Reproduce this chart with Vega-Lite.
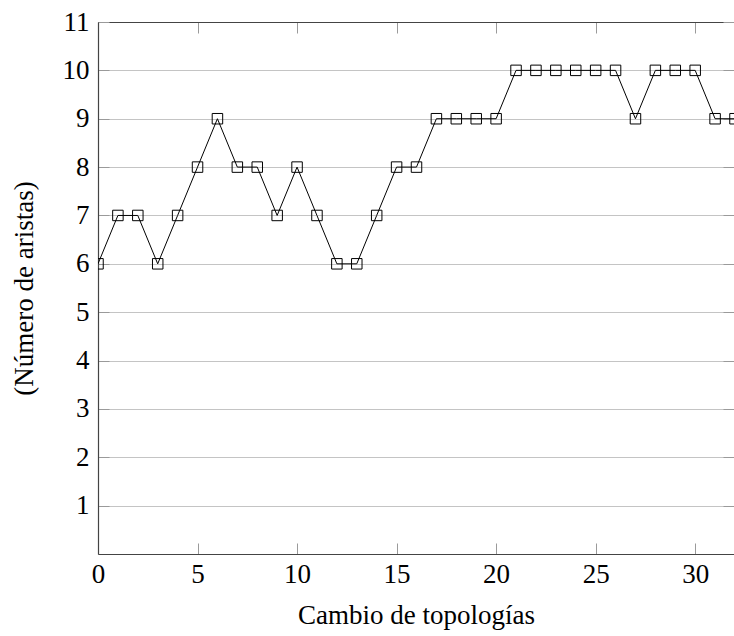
{
  "$schema": "https://vega.github.io/schema/vega-lite/v6.json",
  "autosize": {"type": "none"},
  "padding": {"left": 98, "top": 22, "right": 0, "bottom": 82},
  "width": 636,
  "height": 532,
  "background": "white",
  "config": {
    "view": {"stroke": null},
    "font": "'Liberation Serif', 'Times New Roman', Times, serif",
    "axis": {
      "labelFont": "'Liberation Serif', 'Times New Roman', Times, serif",
      "titleFont": "'Liberation Serif', 'Times New Roman', Times, serif",
      "labelFontSize": 27,
      "titleFontSize": 27,
      "labelColor": "black",
      "titleColor": "black",
      "titleFontWeight": "normal",
      "labelFlush": false,
      "domainColor": "#444444",
      "domainWidth": 1.2,
      "tickColor": "#9a9a9a",
      "tickWidth": 1,
      "gridColor": "#c4c4c4",
      "gridWidth": 1
    }
  },
  "data": {
    "values": [
      {"cambio": 0, "aristas": 6},
      {"cambio": 1, "aristas": 7},
      {"cambio": 2, "aristas": 7},
      {"cambio": 3, "aristas": 6},
      {"cambio": 4, "aristas": 7},
      {"cambio": 5, "aristas": 8},
      {"cambio": 6, "aristas": 9},
      {"cambio": 7, "aristas": 8},
      {"cambio": 8, "aristas": 8},
      {"cambio": 9, "aristas": 7},
      {"cambio": 10, "aristas": 8},
      {"cambio": 11, "aristas": 7},
      {"cambio": 12, "aristas": 6},
      {"cambio": 13, "aristas": 6},
      {"cambio": 14, "aristas": 7},
      {"cambio": 15, "aristas": 8},
      {"cambio": 16, "aristas": 8},
      {"cambio": 17, "aristas": 9},
      {"cambio": 18, "aristas": 9},
      {"cambio": 19, "aristas": 9},
      {"cambio": 20, "aristas": 9},
      {"cambio": 21, "aristas": 10},
      {"cambio": 22, "aristas": 10},
      {"cambio": 23, "aristas": 10},
      {"cambio": 24, "aristas": 10},
      {"cambio": 25, "aristas": 10},
      {"cambio": 26, "aristas": 10},
      {"cambio": 27, "aristas": 9},
      {"cambio": 28, "aristas": 10},
      {"cambio": 29, "aristas": 10},
      {"cambio": 30, "aristas": 10},
      {"cambio": 31, "aristas": 9},
      {"cambio": 32, "aristas": 9}
    ]
  },
  "layer": [
    {
      "mark": {"type": "line", "color": "black", "strokeWidth": 1, "clip": true},
      "encoding": {
        "x": {
          "field": "cambio", "type": "quantitative",
          "scale": {"domain": [0, 31.95], "nice": false, "zero": false},
          "axis": {
            "title": "Cambio de topologías",
            "values": [0, 5, 10, 15, 20, 25, 30],
            "grid": false,
            "labelFlush": false,
            "tickSize": -11,
            "labelPadding": 18,
            "titlePadding": 15
          }
        },
        "y": {
          "field": "aristas", "type": "quantitative",
          "scale": {"domain": [0, 11], "nice": false},
          "axis": {
            "title": "(Número de aristas)",
            "values": [1, 2, 3, 4, 5, 6, 7, 8, 9, 10, 11],
            "grid": true,
            "tickSize": -11,
            "labelPadding": 20,
            "titlePadding": 24
          }
        }
      }
    },
    {
      "mark": {"type": "point", "shape": "square", "size": 110, "filled": false, "stroke": "black", "strokeWidth": 1, "opacity": 1, "clip": true},
      "encoding": {
        "x": {
          "field": "cambio", "type": "quantitative",
          "axis": {
            "orient": "top", "title": null, "labels": false,
            "values": [0, 5, 10, 15, 20, 25, 30],
            "grid": false, "tickSize": -11
          }
        },
        "y": {
          "field": "aristas", "type": "quantitative",
          "axis": {
            "orient": "right", "title": null, "labels": false, "domain": false,
            "values": [1, 2, 3, 4, 5, 6, 7, 8, 9, 10, 11],
            "grid": false, "tickSize": -11
          }
        }
      }
    }
  ],
  "resolve": {"axis": {"x": "independent", "y": "independent"}}
}
